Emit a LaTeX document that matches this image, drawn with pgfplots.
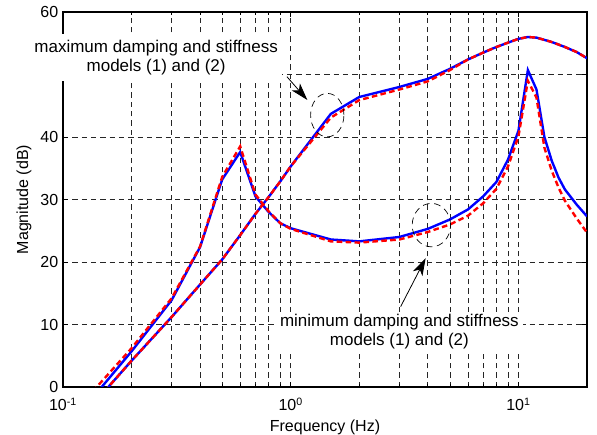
\documentclass[border=0pt]{standalone}
\usepackage{fontspec}
\setmainfont{Liberation Sans}
\usepackage{pgfplots}
\pgfplotsset{compat=1.18}
\usetikzlibrary{arrows.meta,calc}

\begin{document}
\begin{tikzpicture}
\begin{semilogxaxis}[
    scale only axis,
    width=393pt, height=281.25pt,
    xmin=0.1, xmax=20, ymin=0, ymax=60,
    xtick={0.1,1,10},
    xticklabels={10\textsuperscript{-1},10\textsuperscript{0},10\textsuperscript{1}},
    minor xtick={0.2,0.3,0.4,0.5,0.6,0.7,0.8,0.9,2,3,4,5,6,7,8,9},
    ytick={0,10,20,30,40,50,60},
    xmajorgrids, xminorgrids, ymajorgrids,
    major grid style={black!85, line width=0.6pt, dash pattern=on 4pt off 3pt},
    minor grid style={black!85, line width=0.6pt, dash pattern=on 4pt off 3pt},
    tick align=inside,
    major tick length=4pt, minor tick length=2.5pt,
    axis line style={line width=1pt},
    every tick/.style={black, line width=0.5pt},
    /pgf/number format/assume math mode=true,
    tick label style={font=\fontsize{12}{14}\selectfont},
    xticklabel style={yshift=-4.5pt},
    label style={font=\fontsize{12}{14}\selectfont},
    xlabel={Frequency (Hz)}, ylabel={Magnitude (dB)},
    xlabel style={at={(axis description cs:0.5,-0.108)}, anchor=center},
    ylabel style={at={(axis description cs:-0.0744,0.5)}, anchor=center},
    every axis plot/.append style={line width=1.8pt},
]
% minimum damping and stiffness, model (1)
\addplot[blue, solid] coordinates {(0.1,-7.4) (0.2,5.7) (0.3,13.9) (0.4,22.4) (0.5,33.2) (0.6,37.6) (0.7,30.5) (0.8,28.0) (0.9,26.2) (1,25.4) (1.5,23.6) (2,23.3) (3,24.0) (4,25.3) (5,26.8) (6,28.4) (7,30.5) (8,32.8) (9,36.4) (10,41.0) (11,50.7) (12,47.6) (13,40.0) (14,36.2) (15,33.5) (16,31.6) (18,29.2) (20,27.3)};
% maximum damping and stiffness, model (1)
\addplot[blue, solid] coordinates {(0.1,-8.2) (0.2,4.2) (0.3,11.2) (0.4,16.4) (0.5,20.4) (0.6,24.3) (0.7,27.7) (0.8,30.4) (0.9,32.9) (1,35.3) (1.5,43.7) (2,46.4) (3,48.0) (4,49.3) (5,50.9) (6,52.4) (7,53.5) (8,54.4) (9,55.1) (10,55.7) (11,56.0) (12,55.9) (14,55.2) (16,54.4) (18,53.6) (20,52.6)};
% model (2)
\addplot[red, dash pattern=on 4.2pt off 2.5pt] coordinates {(0.1,-6.0) (0.2,6.2) (0.3,14.2) (0.4,22.5) (0.5,33.6) (0.6,38.5) (0.7,30.8) (0.8,28.1) (0.9,26.2) (1,25.3) (1.5,23.3) (2,23.1) (3,23.6) (4,24.8) (5,26.0) (6,27.4) (7,29.4) (8,31.7) (9,35.3) (10,40.1) (11,49.0) (12,46.3) (13,38.3) (14,34.6) (15,31.9) (16,29.8) (18,27.0) (20,24.7)};
\addplot[red, dash pattern=on 4.2pt off 2.5pt] coordinates {(0.1,-8.2) (0.2,4.2) (0.3,11.2) (0.4,16.4) (0.5,20.4) (0.6,24.3) (0.7,27.7) (0.8,30.4) (0.9,32.9) (1,35.3) (1.5,43.1) (2,45.9) (3,47.6) (4,48.9) (5,50.7) (6,52.4) (7,53.5) (8,54.4) (9,55.1) (10,55.7) (11,56.0) (12,55.9) (14,55.2) (16,54.4) (18,53.6) (20,52.6)};

\coordinate (SW) at (rel axis cs:0,0);
\coordinate (NE) at (rel axis cs:1,1);
\coordinate (maxT) at (axis cs:0.2564,52.7);
\coordinate (minT) at (axis cs:3.0,8.8);
\coordinate (maxC) at (axis cs:1.447,43.5);
\coordinate (minC) at (axis cs:4.147,25.9);
\coordinate (maxA0) at (axis cs:0.9623,49.65);
\coordinate (maxA1) at (axis cs:1.183,45.92);
\coordinate (minA0) at (axis cs:3.038,12.85);
\coordinate (minA1) at (axis cs:3.913,20.6);
\end{semilogxaxis}

\node[fill=white, align=center, inner xsep=3.4pt, inner ysep=4.5pt,
      font=\fontsize{12.75}{14.25}\selectfont] at (maxT)
      {maximum damping and stiffness\\models (1) and (2)};
\node[fill=white, align=center, inner xsep=3.4pt, inner ysep=2pt,
      font=\fontsize{12.75}{14.25}\selectfont] at (minT)
      {minimum damping and stiffness\\models (1) and (2)};
\draw[black, line width=0.5pt, dash pattern=on 5pt off 3.5pt] (maxC) ellipse [x radius=12.5pt, y radius=16.3pt];
\draw[black, line width=0.5pt, dash pattern=on 5pt off 3.5pt] (minC) ellipse [x radius=14.4pt, y radius=16.3pt];
\draw[black, line width=0.6pt, -{Stealth[length=13pt, width=8pt, inset=3.5pt]}] (maxA0) -- (maxA1);
\draw[black, line width=0.6pt, -{Stealth[length=13pt, width=8pt, inset=3.5pt]}] (minA0) -- (minA1);

\pgfresetboundingbox
\path ($(SW)+(-47.25pt,-36pt)$) rectangle ($(NE)+(7.5pt,9pt)$);
\end{tikzpicture}
\end{document}
